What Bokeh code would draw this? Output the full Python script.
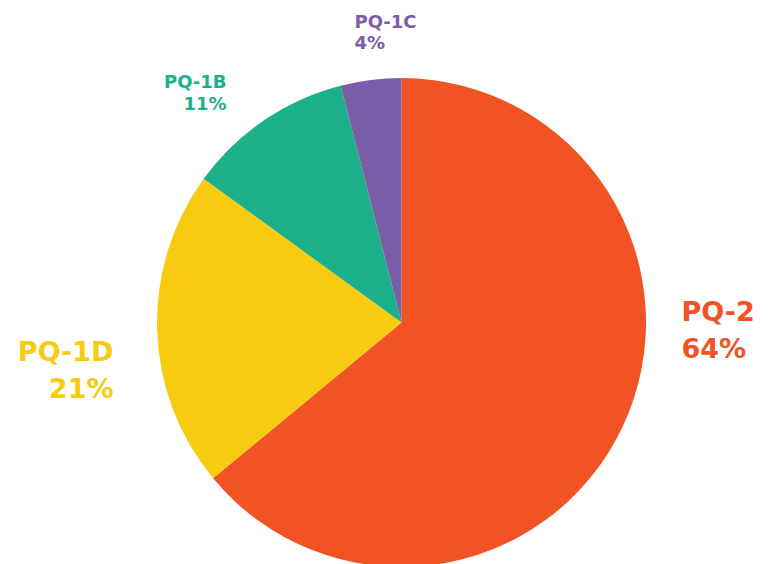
import math
from bokeh.plotting import figure
from bokeh.models import Range1d, ColumnDataSource
from bokeh.core.properties import value
from bokeh.embed import file_html
from bokeh.resources import INLINE

# ---- data ----
categories = ["PQ-2", "PQ-1D", "PQ-1B", "PQ-1C"]
shares = [64, 21, 11, 4]
colors = ["#F15325", "#F7CB10", "#1BB08A", "#7A5EA7"]

# ---- layout (pixels) ----
W, H = 769, 564
CX, CY = 401, H - 322
R = 244.5
FONT = "DejaVu Sans"
# label layout: x, baseline of line 1, baseline of line 2, align, font size
label_layout = {
    "PQ-2": (681, H - 311, H - 348, "left", "27px"),
    "PQ-1D": (113, H - 351, H - 388, "right", "27px"),
    "PQ-1B": (226, H - 81, H - 103, "right", "18px"),
    "PQ-1C": (354, H - 21, H - 42, "left", "18px"),
}

total = float(sum(shares))
starts, ends = [], []
cum = 0.0
for s in shares:
    a0 = math.pi / 2 - 2 * math.pi * cum / total
    cum += s
    a1 = math.pi / 2 - 2 * math.pi * cum / total
    starts.append(a1)
    ends.append(a0)

src = ColumnDataSource(dict(cat=categories, share=shares, color=colors,
                            start=starts, end=ends,
                            x=[CX] * len(shares), y=[CY] * len(shares)))

p = figure(width=W, height=H, output_backend="svg", toolbar_location=None,
           x_range=Range1d(0, W), y_range=Range1d(0, H),
           min_border=0, outline_line_color=None)
p.axis.visible = False
p.grid.visible = False
p.background_fill_color = "white"
p.border_fill_color = "white"

p.wedge(x="x", y="y", radius=R, radius_units="screen",
        start_angle="start", end_angle="end", direction="anticlock",
        fill_color="color", line_color=None, source=src)

for cat, share, col in zip(categories, shares, colors):
    x, y1, y2, align, size = label_layout[cat]
    p.text(x=[x, x], y=[y1, y2], text=[cat, f"{share}%"],
           text_color=col, text_align=align, text_baseline="alphabetic",
           text_font=value(FONT), text_font_size=size, text_font_style="bold")

open("out.html", "w").write(file_html(p, INLINE))
